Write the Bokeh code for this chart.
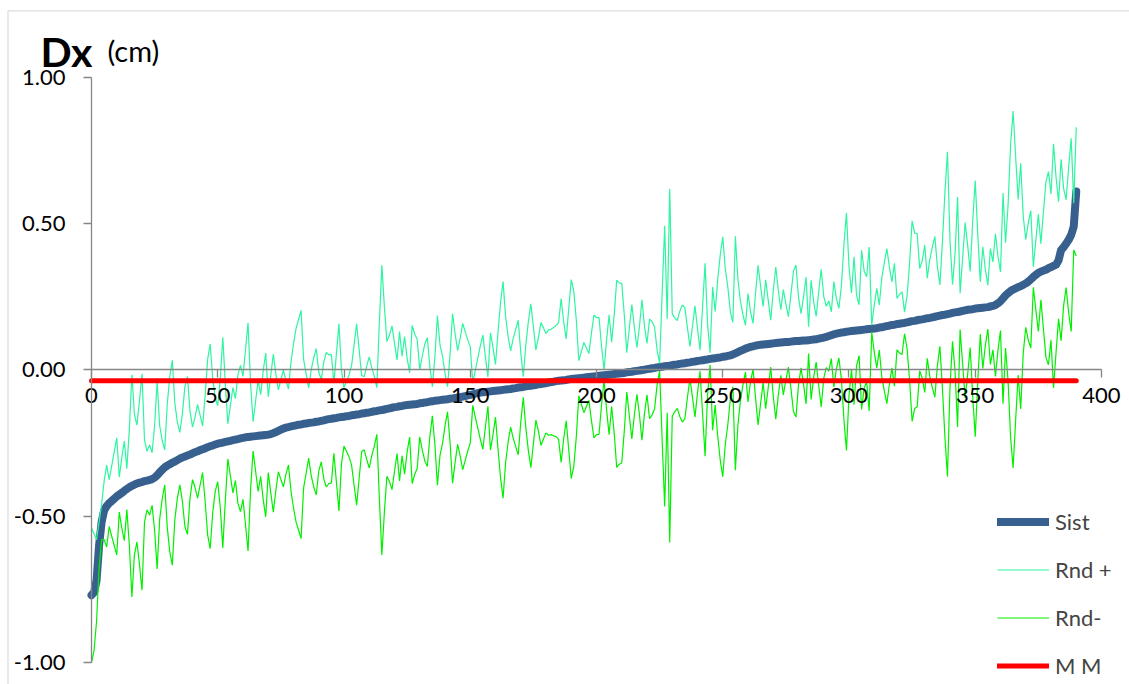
from bokeh.plotting import figure
from bokeh.models import (Range1d, NumeralTickFormatter, FixedTicker, Legend,
                          LegendItem, Label, ColumnDataSource, BoxAnnotation)
from bokeh.embed import file_html
from bokeh.resources import INLINE

# ---- data ----
x_ticks = [0, 50, 100, 150, 200, 250, 300, 350, 400]
y_ticks = [-1.0, -0.5, 0.0, 0.5, 1.0]

# "Sist": sorted systematic error, one value per point (x = 0..390)
sist = [
    -0.770, -0.760, -0.720, -0.600, -0.520, -0.480, -0.465, -0.455, -0.448, -0.440,
    -0.432, -0.426, -0.420, -0.413, -0.407, -0.401, -0.396, -0.392, -0.388, -0.385,
    -0.383, -0.380, -0.378, -0.376, -0.373, -0.368, -0.360, -0.350, -0.341, -0.333,
    -0.327, -0.322, -0.317, -0.313, -0.308, -0.303, -0.299, -0.296, -0.292, -0.289,
    -0.285, -0.281, -0.278, -0.274, -0.271, -0.268, -0.264, -0.261, -0.258, -0.255,
    -0.252, -0.250, -0.248, -0.246, -0.244, -0.242, -0.240, -0.238, -0.236, -0.234,
    -0.232, -0.230, -0.229, -0.228, -0.227, -0.226, -0.225, -0.224, -0.223, -0.222,
    -0.221, -0.219, -0.216, -0.212, -0.208, -0.204, -0.200, -0.197, -0.195, -0.193,
    -0.191, -0.189, -0.187, -0.186, -0.184, -0.183, -0.181, -0.180, -0.179, -0.177,
    -0.176, -0.174, -0.172, -0.170, -0.168, -0.167, -0.165, -0.164, -0.162, -0.161,
    -0.160, -0.158, -0.157, -0.155, -0.154, -0.152, -0.151, -0.149, -0.148, -0.146,
    -0.145, -0.143, -0.141, -0.140, -0.138, -0.137, -0.135, -0.133, -0.131, -0.129,
    -0.127, -0.126, -0.124, -0.123, -0.121, -0.120, -0.119, -0.118, -0.117, -0.116,
    -0.114, -0.113, -0.111, -0.110, -0.108, -0.107, -0.105, -0.104, -0.103, -0.102,
    -0.101, -0.100, -0.098, -0.097, -0.096, -0.094, -0.093, -0.091, -0.089, -0.087,
    -0.085, -0.083, -0.081, -0.079, -0.077, -0.076, -0.075, -0.074, -0.073, -0.072,
    -0.071, -0.070, -0.069, -0.068, -0.067, -0.066, -0.065, -0.063, -0.062, -0.060,
    -0.059, -0.058, -0.056, -0.055, -0.054, -0.052, -0.051, -0.049, -0.048, -0.046,
    -0.045, -0.043, -0.041, -0.040, -0.038, -0.037, -0.036, -0.035, -0.034, -0.032,
    -0.031, -0.030, -0.029, -0.028, -0.027, -0.026, -0.025, -0.024, -0.023, -0.022,
    -0.021, -0.020, -0.019, -0.018, -0.017, -0.016, -0.015, -0.014, -0.013, -0.012,
    -0.011, -0.010, -0.008, -0.007, -0.006, -0.004, -0.003, -0.002, 0.000, 0.001,
    0.003, 0.004, 0.006, 0.007, 0.009, 0.010, 0.011, 0.013, 0.014, 0.015,
    0.017, 0.018, 0.019, 0.021, 0.022, 0.023, 0.025, 0.026, 0.028, 0.029,
    0.031, 0.032, 0.033, 0.035, 0.036, 0.038, 0.039, 0.040, 0.042, 0.043,
    0.045, 0.046, 0.048, 0.050, 0.053, 0.057, 0.061, 0.065, 0.069, 0.073,
    0.076, 0.079, 0.081, 0.083, 0.085, 0.086, 0.087, 0.088, 0.089, 0.090,
    0.091, 0.092, 0.093, 0.094, 0.095, 0.096, 0.096, 0.097, 0.098, 0.099,
    0.099, 0.100, 0.101, 0.101, 0.102, 0.103, 0.104, 0.105, 0.107, 0.109,
    0.111, 0.113, 0.116, 0.119, 0.122, 0.124, 0.126, 0.128, 0.129, 0.131,
    0.132, 0.133, 0.134, 0.135, 0.136, 0.137, 0.138, 0.139, 0.140, 0.141,
    0.142, 0.143, 0.145, 0.146, 0.148, 0.150, 0.152, 0.154, 0.155, 0.157,
    0.158, 0.160, 0.161, 0.163, 0.165, 0.167, 0.168, 0.170, 0.172, 0.173,
    0.175, 0.177, 0.178, 0.180, 0.182, 0.184, 0.186, 0.188, 0.189, 0.191,
    0.193, 0.195, 0.197, 0.198, 0.200, 0.202, 0.204, 0.206, 0.207, 0.208,
    0.210, 0.211, 0.212, 0.213, 0.214, 0.215, 0.217, 0.219, 0.222, 0.228,
    0.235, 0.245, 0.255, 0.263, 0.270, 0.275, 0.279, 0.283, 0.287, 0.291,
    0.296, 0.302, 0.310, 0.318, 0.325, 0.332, 0.336, 0.340, 0.343, 0.348,
    0.352, 0.356, 0.360, 0.375, 0.410, 0.420, 0.432, 0.445, 0.462, 0.490,
    0.610,
]

# random half-spread: Rnd + = Sist + dev, Rnd- = Sist - dev
dev = [
    0.23, 0.20, 0.14, 0.08, 0.06, 0.10, 0.14, 0.08, 0.12, 0.16,
    0.20, 0.06, 0.12, 0.17, 0.07, 0.20, 0.38, 0.24, 0.20, 0.28,
    0.37, 0.14, 0.10, 0.12, 0.09, 0.18, 0.32, 0.16, 0.10, 0.06,
    0.21, 0.30, 0.35, 0.20, 0.13, 0.09, 0.15, 0.24, 0.27, 0.15,
    0.09, 0.12, 0.16, 0.12, 0.08, 0.18, 0.30, 0.35, 0.23, 0.16,
    0.13, 0.22, 0.36, 0.20, 0.06, 0.12, 0.18, 0.14, 0.22, 0.25,
    0.21, 0.30, 0.39, 0.18, 0.05, 0.12, 0.19, 0.14, 0.22, 0.28,
    0.13, 0.20, 0.27, 0.20, 0.14, 0.17, 0.20, 0.16, 0.13, 0.22,
    0.28, 0.33, 0.36, 0.39, 0.22, 0.17, 0.12, 0.18, 0.22, 0.25,
    0.17, 0.14, 0.20, 0.23, 0.22, 0.22, 0.12, 0.22, 0.32, 0.16,
    0.10, 0.12, 0.14, 0.17, 0.24, 0.31, 0.22, 0.13, 0.125, 0.16,
    0.19, 0.15, 0.12, 0.08, 0.30, 0.495, 0.35, 0.23, 0.25, 0.28,
    0.22, 0.16, 0.255, 0.17, 0.235, 0.16, 0.11, 0.27, 0.24, 0.22,
    0.115, 0.16, 0.20, 0.22, 0.12, 0.05, 0.15, 0.29, 0.19, 0.15,
    0.09, 0.043, 0.15, 0.29, 0.22, 0.16, 0.20, 0.25, 0.22, 0.19,
    0.165, 0.038, 0.08, 0.12, 0.16, 0.195, 0.12, 0.05, 0.20, 0.15,
    0.09, 0.20, 0.30, 0.37, 0.25, 0.18, 0.13, 0.17, 0.20, 0.23,
    0.12, 0.035, 0.14, 0.22, 0.28, 0.20, 0.12, 0.16, 0.21, 0.19,
    0.17, 0.18, 0.18, 0.185, 0.19, 0.20, 0.28, 0.20, 0.14, 0.24,
    0.34, 0.30, 0.20, 0.06, 0.09, 0.12, 0.10, 0.08, 0.15, 0.21,
    0.20, 0.20, 0.10, 0.018, 0.12, 0.205, 0.11, 0.20, 0.32, 0.31,
    0.307, 0.20, 0.067, 0.15, 0.23, 0.15, 0.08, 0.15, 0.24, 0.15,
    0.088, 0.17, 0.16, 0.14, 0.06, 0.013, 0.25, 0.48, 0.16, 0.605,
    0.175, 0.16, 0.15, 0.18, 0.20, 0.19, 0.12, 0.055, 0.12, 0.19,
    0.11, 0.036, 0.18, 0.33, 0.12, 0.02, 0.245, 0.16, 0.267, 0.35,
    0.41, 0.30, 0.236, 0.15, 0.11, 0.40, 0.25, 0.17, 0.12, 0.08,
    0.185, 0.12, 0.078, 0.18, 0.273, 0.20, 0.13, 0.22, 0.15, 0.08,
    0.18, 0.26, 0.18, 0.112, 0.18, 0.13, 0.086, 0.16, 0.24, 0.26,
    0.15, 0.093, 0.15, 0.217, 0.046, 0.204, 0.13, 0.078, 0.16, 0.235,
    0.14, 0.105, 0.12, 0.08, 0.18, 0.12, 0.085, 0.16, 0.30, 0.406,
    0.22, 0.13, 0.253, 0.12, 0.087, 0.272, 0.20, 0.18, 0.28, 0.012,
    0.08, 0.136, 0.077, 0.17, 0.22, 0.265, 0.20, 0.147, 0.21, 0.088,
    0.10, 0.107, 0.037, 0.09, 0.20, 0.343, 0.30, 0.296, 0.175, 0.20,
    0.252, 0.137, 0.20, 0.24, 0.275, 0.17, 0.105, 0.25, 0.42, 0.555,
    0.25, 0.097, 0.20, 0.393, 0.062, 0.18, 0.30, 0.22, 0.13, 0.30,
    0.438, 0.25, 0.09, 0.208, 0.13, 0.075, 0.198, 0.15, 0.244, 0.16,
    0.10, 0.36, 0.18, 0.30, 0.50, 0.61, 0.45, 0.30, 0.42, 0.235,
    0.15, 0.20, 0.235, 0.035, 0.12, 0.20, 0.096, 0.20, 0.30, 0.33,
    0.25, 0.417, 0.30, 0.20, 0.31, 0.20, 0.15, 0.25, 0.33, 0.08,
    0.22,
]

mm_x = [0, 390]
mm_y = [-0.037, -0.037]

# ---- build sources ----
xs = list(range(len(sist)))
rnd_plus = [s + d for s, d in zip(sist, dev)]
rnd_minus = [s - d for s, d in zip(sist, dev)]
src = ColumnDataSource(dict(x=xs, sist=sist, rp=rnd_plus, rm=rnd_minus))
mm_src = ColumnDataSource(dict(x=mm_x, y=mm_y))

FONT = "Lato"

# the plot frame fills the whole canvas; axes are pinned at 0 and bounded
p = figure(width=1129, height=684,
           x_range=Range1d(-36.04, 411.09), y_range=Range1d(-1.0752, 1.2632),
           output_backend="svg", toolbar_location=None,
           min_border_left=0, min_border_right=0,
           min_border_top=0, min_border_bottom=0)
p.title.visible = False
p.outline_line_color = None
p.xgrid.visible = False
p.ygrid.visible = False
p.background_fill_color = "white"
p.border_fill_color = "white"

# chart-area border (left and top edges, as in the spreadsheet export)
p.add_layout(BoxAnnotation(left=-33.07, top=1.2274, right=430, bottom=-1.3,
                           fill_alpha=0, line_color="#8a8a8a", line_width=1.2,
                           level="underlay"))

p.xaxis.fixed_location = 0
p.yaxis.fixed_location = 0
p.xaxis.bounds = (0, 400)
p.yaxis.bounds = (-1, 1)
p.xaxis.ticker = FixedTicker(ticks=x_ticks)
p.yaxis.ticker = FixedTicker(ticks=y_ticks)
p.yaxis.formatter = NumeralTickFormatter(format="0.00")
for ax in (p.xaxis, p.yaxis):
    ax.axis_line_color = "#868686"
    ax.axis_line_width = 1.3
    ax.major_tick_line_color = "#868686"
    ax.major_tick_line_width = 1.3
    ax.major_tick_out = 8
    ax.major_tick_in = 0
    ax.minor_tick_line_color = None
    ax.major_label_text_font = FONT
    ax.major_label_text_font_size = "22px"
    ax.major_label_text_color = "black"
p.xaxis.major_label_standoff = 10
p.yaxis.major_label_standoff = 18

# series
r_sist = p.line("x", "sist", source=src, line_color="#37608F", line_width=8,
                line_cap="round", line_join="round")
r_rp = p.line("x", "rp", source=src, line_color="#2EF5A0", line_width=1.2)
r_rm = p.line("x", "rm", source=src, line_color="#00F000", line_width=1.2)
r_mm = p.line("x", "y", source=mm_src, line_color="#FF0000", line_width=5,
              line_cap="round")

legend = Legend(items=[LegendItem(label="Sist", renderers=[r_sist]),
                       LegendItem(label="Rnd +", renderers=[r_rp]),
                       LegendItem(label="Rnd-", renderers=[r_rm]),
                       LegendItem(label="M M", renderers=[r_mm])],
                location=(997, 5),
                label_text_font=FONT, label_text_font_size="22px",
                glyph_width=52, glyph_height=27, label_height=27,
                spacing=21, padding=0, margin=0, label_standoff=6,
                border_line_color=None, background_fill_alpha=0)
p.add_layout(legend, "center")

# title texts
p.add_layout(Label(x=-20.2, y=1.089, text="Dx", text_font=FONT,
                   text_font_size="41px", text_font_style="bold",
                   text_baseline="alphabetic", text_color="black"))
p.add_layout(Label(x=6.3, y=1.092, text="(cm)", text_font=FONT,
                   text_font_size="29px", text_baseline="alphabetic",
                   text_color="black"))

open("out.html", "w").write(file_html(p, INLINE))
